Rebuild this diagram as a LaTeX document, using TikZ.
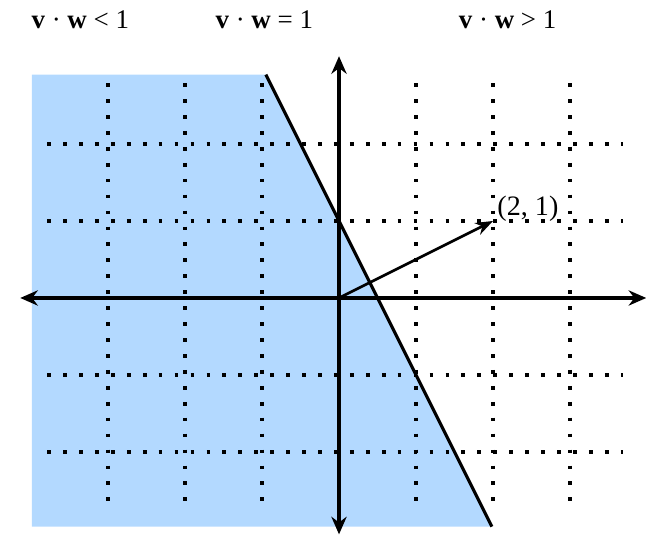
\documentclass[tikz,border=0pt]{standalone}
\usepackage{fontspec}
\setmainfont{Liberation Serif}
\usetikzlibrary{arrows.meta}
\definecolor{regionblue}{RGB}{179,217,255}
\tikzset{
  gridline/.style={line width=3.2pt, dash pattern=on 3.2pt off 10.4pt},
  axisline/.style={line width=3.2pt, -{Stealth[length=15pt,width=13pt]}},
  toplabel/.style={font=\fontsize{23}{26}\selectfont},
}
\begin{document}
\begin{tikzpicture}[x=2.31cm, y=2.31cm]
    \useasboundingbox (-4.403,-3.078) rectangle (3.987,3.870);

    % 区域 v.w<1
    \fill[regionblue] (-3.99,2.9) -- (-0.95,2.9) -- (1.985,-2.97) -- (-3.99,-2.97) -- cycle;

    % 网格
    \foreach \i in {-3,-2,-1,1,2,3}
        \draw[gridline] (\i,2.79) -- (\i,-2.79);
    \foreach \j in {-2,-1,1,2}
        \draw[gridline] (-3.79,\j) -- (3.69,\j);

    % 直线 v.w=1
    \draw[line width=2.7pt] (-0.95,2.9) -- (1.985,-2.97);

    % 坐标轴
    \coordinate (O) at (0,0);
    \draw[axisline] (O) -- (3.99,0);
    \draw[axisline] (O) -- (-4.14,0);
    \draw[axisline] (O) -- (0,3.14);
    \draw[axisline] (O) -- (0,-3.07);

    % 向量 (2,1)
    \coordinate (P) at (2,1);
    \draw[line width=2.3pt, -{Stealth[length=15pt,width=11pt]}] (O) -- (P);
    \node[font=\fontsize{24}{26}\selectfont, anchor=south west, inner sep=1pt] (plabel) at (2.04,0.97) {(2, 1)};

    % 标注
    \node[toplabel] (less) at (-3.36,3.61) {\textbf{v} · \textbf{w} < 1};
    \node[toplabel] (equal) at (-0.97,3.61) {\textbf{v} · \textbf{w} = 1};
    \node[toplabel] (greater) at (2.19,3.61) {\textbf{v} · \textbf{w} > 1};
\end{tikzpicture}
\end{document}
